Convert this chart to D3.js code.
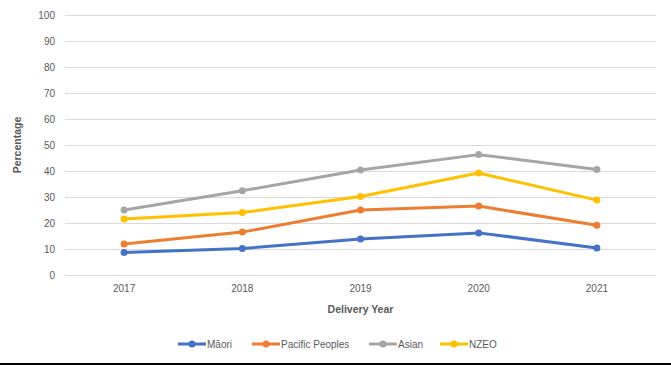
<!DOCTYPE html>
<html><head><meta charset="utf-8">
<script src="https://cdn.jsdelivr.net/npm/d3@7"></script>
<style>body{margin:0;background:#fff}svg{display:block}text{font-family:"Liberation Sans",Arial,sans-serif;fill:#595959}</style>
</head><body><svg id="c" width="671" height="365"></svg>
<script>
const years = ["2017","2018","2019","2020","2021"];
const maori = [8.7, 10.2, 13.8, 16.2, 10.4];
const pacific = [11.9, 16.5, 25.0, 26.5, 19.1];
const asian = [25.0, 32.4, 40.4, 46.3, 40.6];
const nzeo = [21.5, 24.0, 30.2, 39.2, 28.8];
const seriesNames = ["Māori","Pacific Peoples","Asian","NZEO"];
const seriesColors = ["#4472C4","#ED7D31","#A5A5A5","#FFC000"];
const yTicks = [0,10,20,30,40,50,60,70,80,90,100];

const series = [maori, pacific, asian, nzeo].map((v,i)=>({name:seriesNames[i], color:seriesColors[i], values:v}));
const svg = d3.select("#c");
const m = {l:65, r:15, t:15, b:90};
const W = 671, H = 365;
const x = d3.scaleBand().domain(years).range([m.l, W - m.r]);
const y = d3.scaleLinear().domain([0,100]).range([H - m.b, m.t]);

// gridlines
const yAxis = d3.axisLeft(y).tickValues(yTicks).tickSize(-(W - m.l - m.r)).tickPadding(10);
const gy = svg.append("g").attr("transform",`translate(${m.l},0)`).call(yAxis);
gy.select(".domain").remove();
gy.selectAll(".tick line").attr("stroke","#d9d9d9").attr("stroke-width",1);
gy.selectAll(".tick text").attr("font-size",10).style("font-family","Liberation Sans, Arial, sans-serif").attr("fill","#595959");

const xAxis = d3.axisBottom(x).tickSize(0).tickPadding(10);
const gx = svg.append("g").attr("transform",`translate(0,${H - m.b})`).call(xAxis);
gx.select(".domain").remove();
gx.selectAll(".tick text").attr("font-size",10).style("font-family","Liberation Sans, Arial, sans-serif").attr("fill","#595959");

const line = d3.line().x((d,i)=>x(years[i]) + x.bandwidth()/2).y(d=>y(d));
series.forEach(s=>{
  svg.append("path").datum(s.values).attr("d",line).attr("fill","none")
    .attr("stroke",s.color).attr("stroke-width",3).attr("stroke-linejoin","round").attr("stroke-linecap","round");
  svg.selectAll(null).data(s.values).enter().append("circle")
    .attr("cx",(d,i)=>x(years[i]) + x.bandwidth()/2).attr("cy",d=>y(d)).attr("r",3.5).attr("fill",s.color);
});

svg.append("text").attr("transform",`translate(21,${(y(0)+y(100))/2}) rotate(-90)`)
  .attr("text-anchor","middle").attr("font-size",10.5).attr("font-weight","bold").text("Percentage");
svg.append("text").attr("x",(m.l + W - m.r)/2).attr("y",313)
  .attr("text-anchor","middle").attr("font-size",10.5).attr("font-weight","bold").text("Delivery Year");

// legend
const legX = [178, 252, 369, 440];
const lg = svg.append("g");
series.forEach((s,i)=>{
  const g = lg.append("g").attr("transform",`translate(${legX[i]},344)`);
  g.append("line").attr("x1",0).attr("x2",28).attr("y1",0).attr("y2",0).attr("stroke",s.color).attr("stroke-width",3);
  g.append("circle").attr("cx",14).attr("cy",0).attr("r",3.5).attr("fill",s.color);
  g.append("text").attr("x",29).attr("y",3.5).attr("font-size",10).text(s.name);
});

svg.append("rect").attr("x",0).attr("y",363).attr("width",W).attr("height",2).attr("fill","#000");
</script></body></html>
